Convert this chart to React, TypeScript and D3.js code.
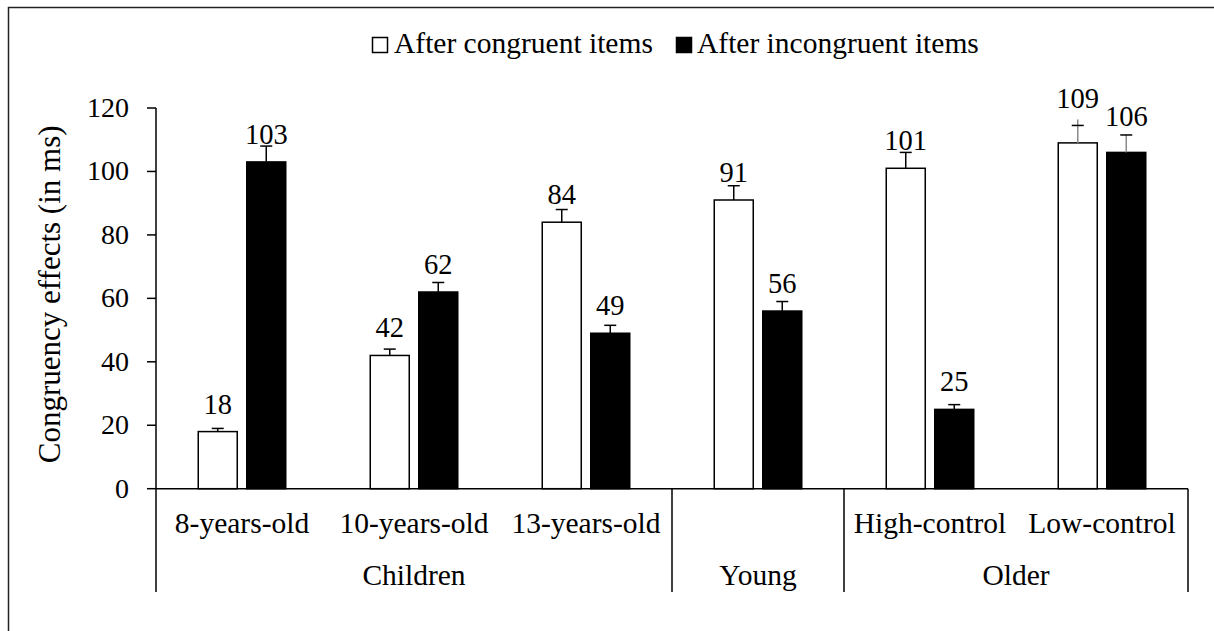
import React from "react";
import * as d3 from "d3";

const categories = ["8-years-old", "10-years-old", "13-years-old", "", "High-control", "Low-control"];
const groups = ["Children", "Young", "Older"];
const groupSpans = [3, 1, 2];
const seriesNames = ["After congruent items", "After incongruent items"];
const congruentValues = [18, 42, 84, 91, 101, 109];
const incongruentValues = [103, 62, 49, 56, 25, 106];
const congruentErrors = [1, 2, 4, 4.5, 5, 5.5];
const incongruentErrors = [5, 3, 2.5, 3, 1.5, 5.5];
const yTicks = [0, 20, 40, 60, 80, 100, 120];

const W = 1214;
const H = 631;
const FONT = '"Liberation Serif", Tinos, "Times New Roman", Times, "Nimbus Roman", "DejaVu Serif", serif';

export default function App() {
  const x0 = d3.scaleBand<number>().domain(d3.range(categories.length)).range([156, 1188]).padding(0);
  const x1 = d3.scaleBand<number>().domain([0, 1]).range([-43.75, 43.75]).paddingInner(0.196);
  const y = d3.scaleLinear().domain([0, 120]).range([488.7, 108]);

  const series = [
    { values: congruentValues, errors: congruentErrors, fill: "#fff" },
    { values: incongruentValues, errors: incongruentErrors, fill: "#000" },
  ];

  // manual label nudges (pixels above default position) for specific points
  const labelNudge: Record<string, number> = { "0-5": 17, "1-5": 8 };

  const txt = { fontFamily: FONT, fill: "#000" } as React.CSSProperties;

  const bars: React.ReactNode[] = [];
  series.forEach((s, si) => {
    s.values.forEach((v, ci) => {
      const cx = x0(ci)! + x0.bandwidth() / 2;
      const bx = cx + x1(si)!;
      const bw = x1.bandwidth();
      const top = y(v);
      const errTop = y(v + s.errors[ci]);
      const grayStem = ci === 5;
      bars.push(
        <g key={`b-${si}-${ci}`}>
          <rect x={bx} y={top} width={bw} height={y(0) - top} fill={s.fill} stroke="#000" strokeWidth={1.5} />
          <line x1={bx + bw / 2} x2={bx + bw / 2} y1={top} y2={errTop - (grayStem && si === 0 ? 6 : 0)} stroke={grayStem ? "#8a8a8a" : "#000"} strokeWidth={1.5} />
          <line x1={bx + bw / 2 - 6} x2={bx + bw / 2 + 6} y1={errTop} y2={errTop} stroke="#000" strokeWidth={1.5} />
          <text x={bx + bw / 2} y={top - 18 - (labelNudge[`${si}-${ci}`] || 0)} textAnchor="middle" fontSize={28.5} style={txt}>
            {v}
          </text>
        </g>
      );
    });
  });

  const sepIdx: number[] = [0];
  groupSpans.reduce((acc, s) => {
    sepIdx.push(acc + s);
    return acc + s;
  }, 0);
  const sepX = sepIdx.map((i) => (i < categories.length ? x0(i)! : x0.range()[1]));

  return (
    <svg width={W} height={H} style={{ position: "absolute", left: 0, top: 0, background: "#fff" }}>
      <rect x={0} y={0} width={W} height={H} fill="#fff" />
      <path d={`M8.5,${H + 5} L8.5,7.5 L${W + 5},7.5`} fill="none" stroke="#222" strokeWidth={1.5} />

      {/* legend */}
      <g fontSize={29.5} style={txt}>
        <rect x={372.5} y={37.5} width={15} height={15} fill="#fff" stroke="#000" strokeWidth={1.5} />
        <text x={394} y={53}>{seriesNames[0]}</text>
        <rect x={676.5} y={37.5} width={15} height={15} fill="#000" stroke="#000" strokeWidth={1.5} />
        <text x={697} y={53}>{seriesNames[1]}</text>
      </g>

      {/* y axis */}
      <line x1={156} x2={156} y1={y(120)} y2={592} stroke="#000" strokeWidth={1.5} />
      {yTicks.map((t) => (
        <g key={t}>
          <line x1={147} x2={156} y1={y(t)} y2={y(t)} stroke="#000" strokeWidth={1.5} />
          <text x={129} y={y(t) + 9} textAnchor="end" fontSize={28} style={txt}>
            {t}
          </text>
        </g>
      ))}
      <text
        transform={`translate(60,${(y(0) + y(120)) / 2 - 4}) rotate(-90)`}
        textAnchor="middle"
        fontSize={31}
        style={txt}
      >
        Congruency effects (in ms)
      </text>

      {bars}

      {/* x axis */}
      <line x1={156} x2={1188} y1={y(0)} y2={y(0)} stroke="#000" strokeWidth={1.5} />
      {sepX.slice(1).map((sx, i) => (
        <line key={`sep-${i}`} x1={sx} x2={sx} y1={y(0)} y2={592} stroke="#000" strokeWidth={1.5} />
      ))}
      {categories.map((c, i) => (
        <text key={`c-${i}`} x={x0(i)! + x0.bandwidth() / 2} y={533} textAnchor="middle" fontSize={29.5} style={txt}>
          {c}
        </text>
      ))}
      {groups.map((g, i) => (
        <text key={`g-${i}`} x={(sepX[i] + sepX[i + 1]) / 2} y={585} textAnchor="middle" fontSize={29.5} style={txt}>
          {g}
        </text>
      ))}
    </svg>
  );
}
